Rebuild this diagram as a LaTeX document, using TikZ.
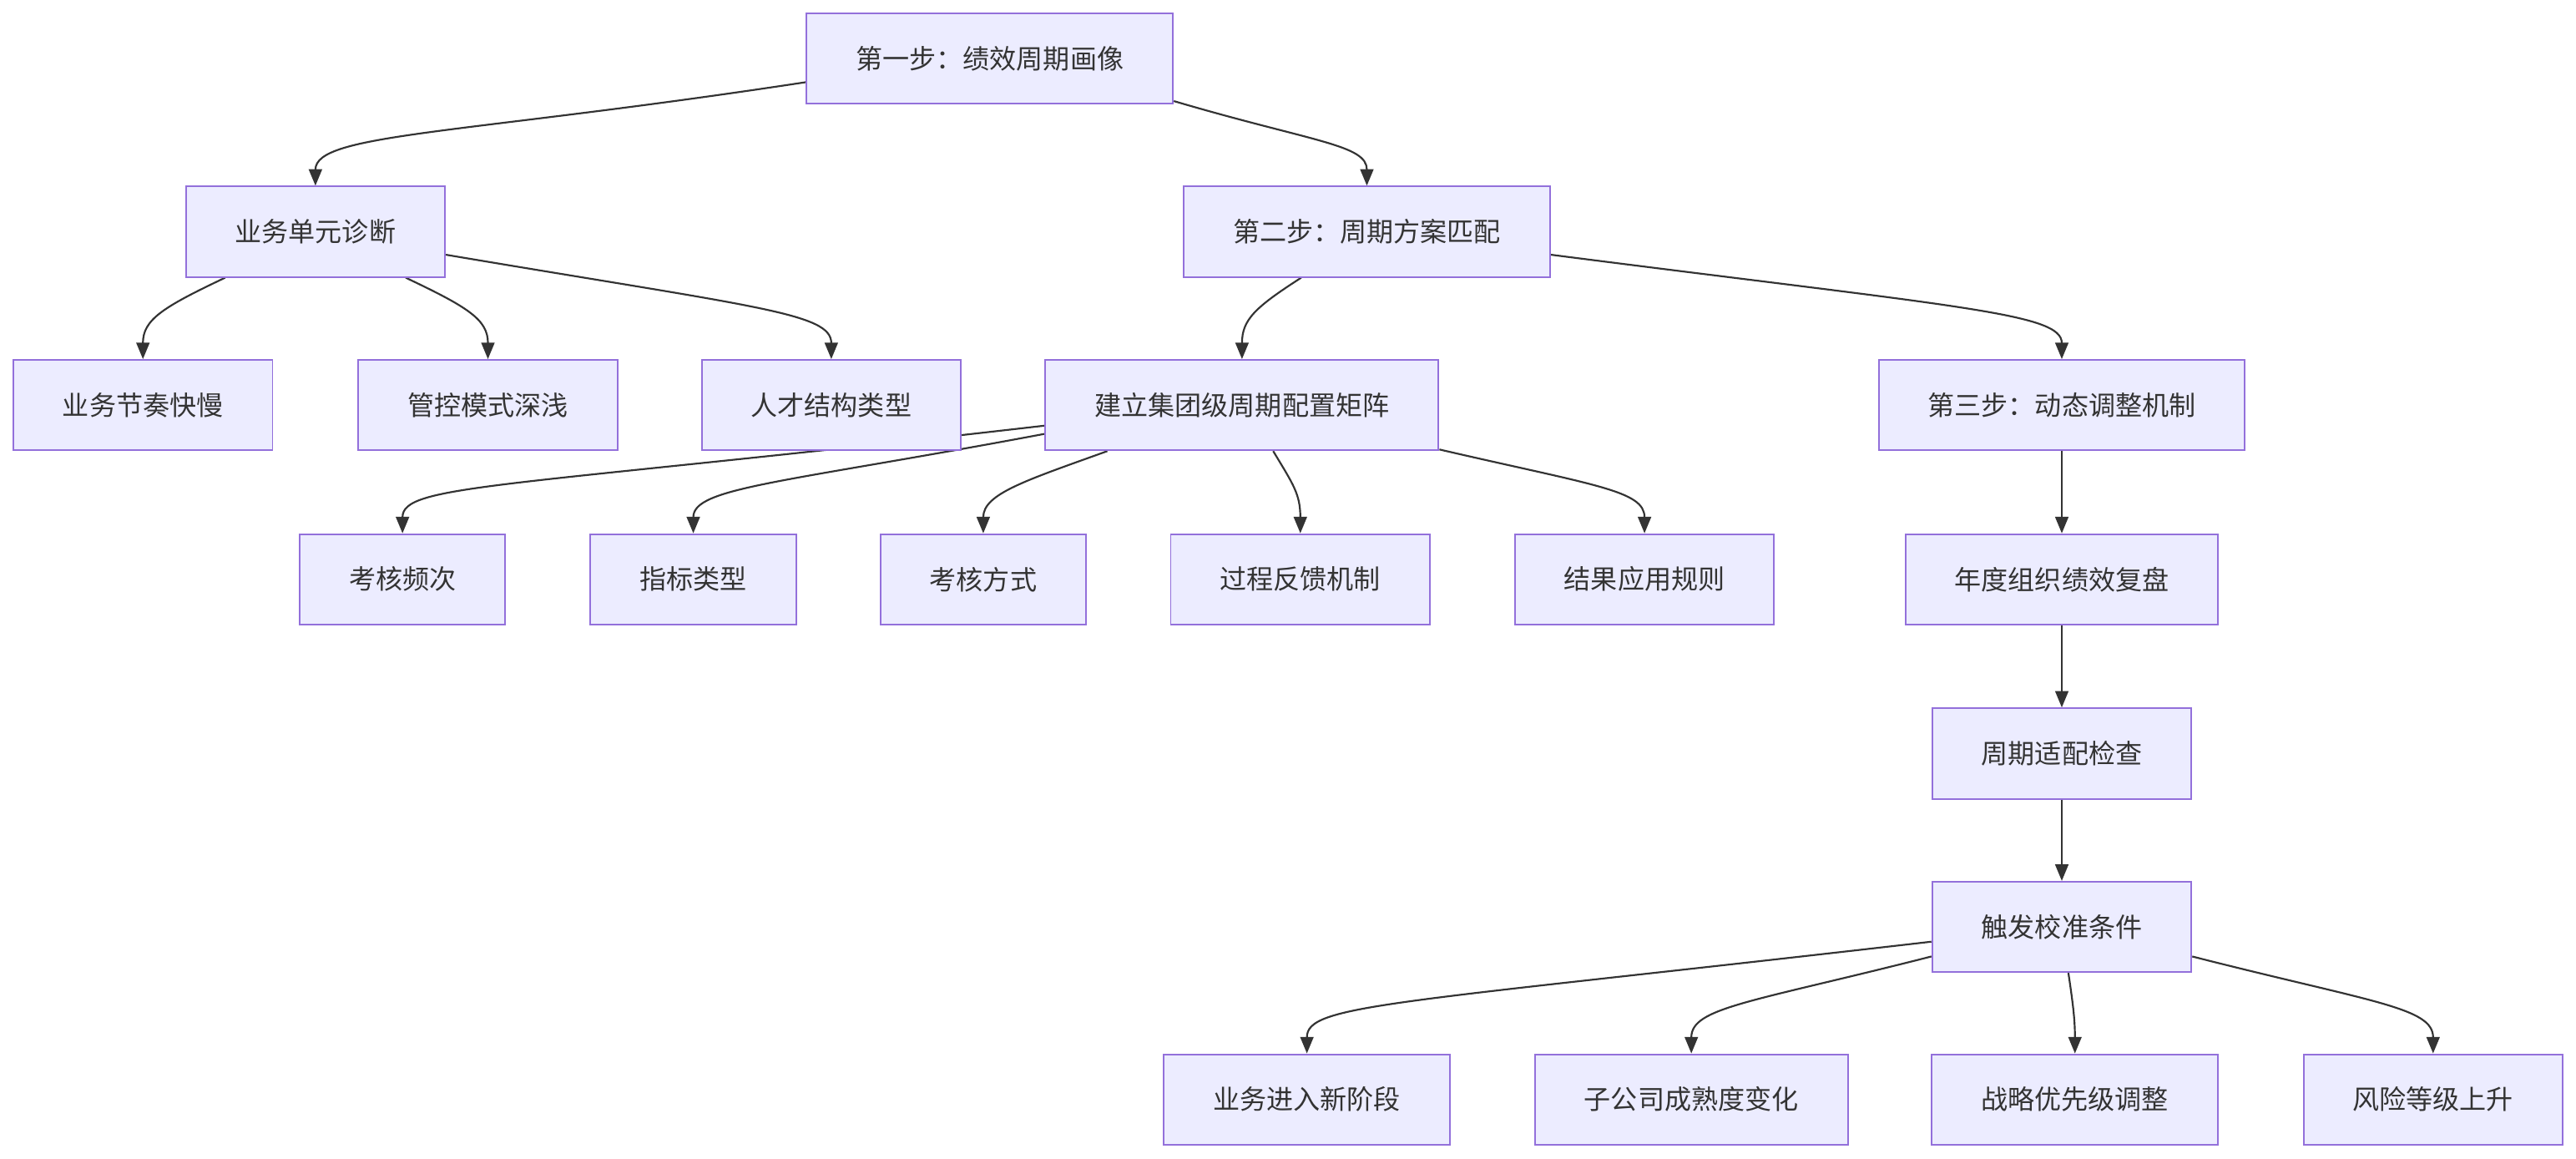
\documentclass[tikz,border=0pt]{standalone}
\usepackage{fontspec}
\usepackage{tikz}
\usetikzlibrary{arrows.meta,backgrounds}
\newfontfamily\cjk{Noto Sans CJK SC}
\definecolor{BoxFill}{HTML}{ECECFF}
\definecolor{BoxLine}{HTML}{9370DB}
\definecolor{EdgeGray}{HTML}{333333}

\tikzset{
  stepbox/.style={draw=BoxLine, fill=BoxFill, line width=1pt, minimum height=55pt,
    inner xsep=30pt, text=EdgeGray, font=\cjk\fontsize{16.3}{19}\selectfont},
  edge/.style={draw=EdgeGray, line width=1.1pt, -{Triangle[length=10pt,width=8pt]}}
}

\begin{document}
\begin{tikzpicture}[x=1pt,y=1pt]
  \useasboundingbox (0,0) rectangle (1568,-705);
  % step one and its diagnosis branch
  \node[stepbox] (s1) at (602.5,-35.5) {第一步：绩效周期画像};
  \node[stepbox] (diag) at (192,-141) {业务单元诊断};
  \node[stepbox] (s2) at (832,-141) {第二步：周期方案匹配};
  \node[stepbox] (pace) at (87,-246.5) {业务节奏快慢};
  \node[stepbox] (ctrl) at (297,-246.5) {管控模式深浅};
  \node[stepbox] (talent) at (506,-246.5) {人才结构类型};
  \node[stepbox] (matrix) at (756,-246.5) {建立集团级周期配置矩阵};
  \node[stepbox] (s3) at (1255,-246.5) {第三步：动态调整机制};
  % matrix items
  \node[stepbox] (freq) at (245,-352.5) {考核频次};
  \node[stepbox] (kpi) at (422,-352.5) {指标类型};
  \node[stepbox] (mode) at (598.5,-352.5) {考核方式};
  \node[stepbox] (feedback) at (791.5,-352.5) {过程反馈机制};
  \node[stepbox] (result) at (1001,-352.5) {结果应用规则};
  % dynamic adjustment chain
  \node[stepbox] (review) at (1255,-352.5) {年度组织绩效复盘};
  \node[stepbox] (check) at (1255,-458.5) {周期适配检查};
  \node[stepbox] (trig) at (1255,-564) {触发校准条件};
  \node[stepbox] (stage) at (795.5,-669) {业务进入新阶段};
  \node[stepbox] (mature) at (1029.5,-669) {子公司成熟度变化};
  \node[stepbox] (prio) at (1263,-669) {战略优先级调整};
  \node[stepbox] (risk) at (1481,-669) {风险等级上升};

  \begin{scope}[on background layer]
    \draw[edge] ([yshift=-14.5pt]s1.west) .. controls +(-210,-32) and +(0,32) .. (diag.north);
    \draw[edge] ([yshift=2pt]s1.south east) .. controls +(85,-25) and +(0,25) .. (s2.north);
    \draw[edge] ([xshift=-55pt]diag.south) .. controls +(-38,-18) and +(0,24) .. (pace.north);
    \draw[edge] ([xshift=55pt]diag.south) .. controls +(38,-18) and +(0,24) .. (ctrl.north);
    \draw[edge] ([yshift=-14pt]diag.east) .. controls +(190,-32) and +(0,28) .. (talent.north);
    \draw[edge] ([xshift=-40pt]s2.south) .. controls +(-28,-18) and +(0,24) .. (matrix.north);
    \draw[edge] ([yshift=-14pt]s2.east) .. controls +(250,-32) and +(0,28) .. (s3.north);
    \draw[edge] ([yshift=-12.5pt]matrix.west) .. controls +(-330,-38) and +(0,30) .. (freq.north);
    \draw[edge] ([yshift=-17.5pt]matrix.west) .. controls +(-160,-30) and +(0,28) .. (kpi.north);
    \draw[edge] ([xshift=-82pt]matrix.south) .. controls +(-50,-18) and +(0,24) .. (mode.north);
    \draw[edge] ([xshift=19pt]matrix.south) .. controls +(12,-20) and +(0,24) .. (feedback.north);
    \draw[edge] ([yshift=1pt]matrix.south east) .. controls +(95,-22) and +(0,26) .. (result.north);
    \draw[edge] (s3) -- (review);
    \draw[edge] (review) -- (check);
    \draw[edge] (check) -- (trig);
    \draw[edge] ([yshift=-9pt]trig.west) .. controls +(-330,-38) and +(0,30) .. (stage.north);
    \draw[edge] ([yshift=-18pt]trig.west) .. controls +(-110,-28) and +(0,28) .. (mature.north);
    \draw[edge] ([xshift=4pt]trig.south) .. controls +(3,-20) and +(0,20) .. (prio.north);
    \draw[edge] ([yshift=-18pt]trig.east) .. controls +(110,-28) and +(0,28) .. (risk.north);
  \end{scope}
\end{tikzpicture}
\end{document}
